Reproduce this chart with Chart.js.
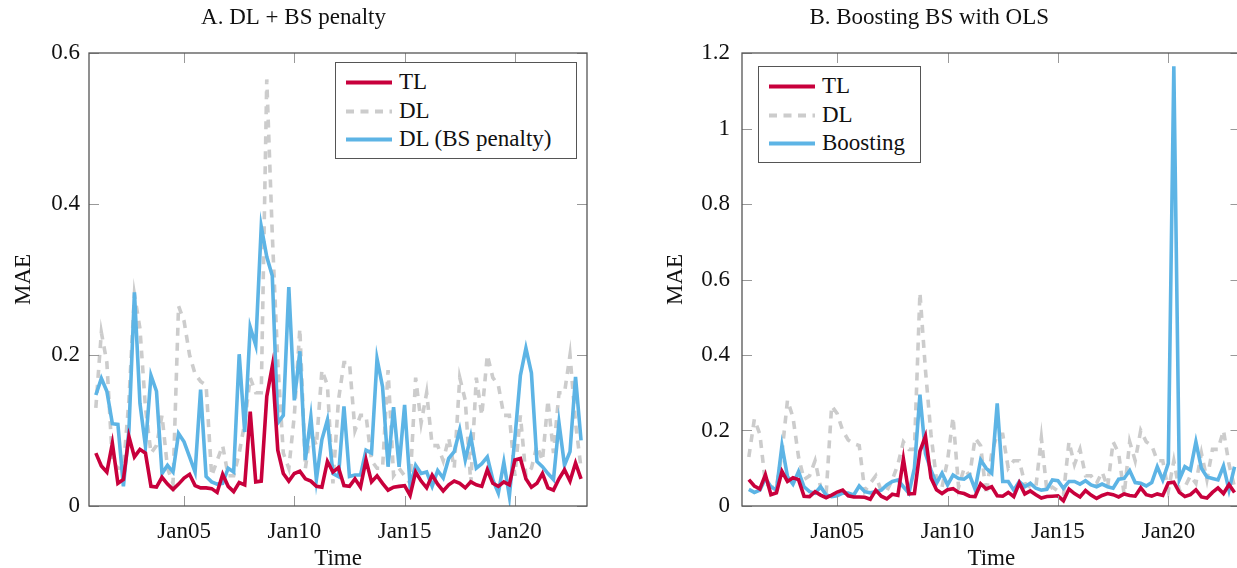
<!DOCTYPE html>
<html>
<head>
<meta charset="utf-8">
<script src="https://cdn.jsdelivr.net/npm/chart.js"></script>
<style>
  html, body { margin: 0; padding: 0; background: #fff; overflow: hidden; width: 1237px; height: 568px; }
  canvas { position: absolute; top: 0; }
  #cA { left: 0; }
  #cB { left: 618px; }
  .legend { position: absolute; background: #fff; border: 1px solid #555; box-sizing: border-box; height: 97px;
            font-family: 'Liberation Serif', serif; font-size: 23px; color: #111; }
  .legend .row { position: absolute; left: 0; height: 28px; line-height: 28px; white-space: nowrap; }
  .legend svg { position: absolute; left: 10px; top: 12px; }
  .legend span { position: absolute; left: 63px; top: 0; }
</style>
</head>
<body>
<canvas id="cA" width="618" height="568"></canvas>
<canvas id="cB" width="627" height="568"></canvas>
<div id="legA" class="legend" style="left:335px; top:62px; width:242px;"></div>
<div id="legB" class="legend" style="left:758px; top:66px; width:163px;"></div>
<script>
// 6-hourly observations, Jan01 00:00 .. Jan23 00:00
var stepDays = 0.25;

var tl = [0.070,0.053,0.045,0.083,0.030,0.035,0.092,0.065,0.075,0.070,
          0.026,0.025,0.038,0.029,0.022,0.029,0.037,0.042,0.027,0.024,
          0.024,0.023,0.018,0.042,0.026,0.019,0.031,0.028,0.125,0.032,
          0.033,0.145,0.185,0.074,0.043,0.033,0.043,0.046,0.036,0.033,
          0.026,0.025,0.059,0.045,0.051,0.027,0.026,0.036,0.025,0.061,
          0.032,0.040,0.030,0.021,0.025,0.026,0.027,0.014,0.045,0.033,
          0.024,0.041,0.029,0.020,0.028,0.033,0.030,0.024,0.032,0.028,
          0.026,0.048,0.030,0.026,0.032,0.028,0.061,0.063,0.036,0.025,
          0.030,0.043,0.024,0.021,0.036,0.048,0.033,0.057,0.036];

var dl = [0.13,0.23,0.19,0.06,0.05,0.05,0.14,0.28,0.235,0.13,
          0.07,0.08,0.12,0.05,0.03,0.265,0.245,0.20,0.175,0.165,
          0.16,0.04,0.06,0.08,0.04,0.04,0.07,0.11,0.17,0.15,
          0.15,0.565,0.36,0.19,0.07,0.05,0.12,0.235,0.05,0.10,
          0.08,0.18,0.16,0.03,0.14,0.19,0.19,0.10,0.12,0.12,
          0.06,0.05,0.05,0.18,0.04,0.05,0.04,0.03,0.17,0.11,
          0.15,0.08,0.08,0.06,0.09,0.05,0.17,0.14,0.03,0.17,
          0.12,0.20,0.17,0.16,0.12,0.12,0.04,0.12,0.04,0.05,
          0.08,0.06,0.14,0.07,0.15,0.15,0.20,0.11,0.05];

var dlBS = [0.147,0.169,0.152,0.109,0.108,0.026,0.100,0.283,0.136,0.079,
            0.173,0.152,0.043,0.054,0.045,0.096,0.085,0.065,0.045,0.154,
            0.039,0.032,0.029,0.030,0.050,0.045,0.201,0.098,0.237,0.213,
            0.370,0.330,0.305,0.110,0.120,0.290,0.140,0.205,0.061,0.118,
            0.035,0.088,0.114,0.043,0.039,0.132,0.039,0.041,0.041,0.074,
            0.070,0.195,0.158,0.052,0.131,0.052,0.134,0.026,0.054,0.043,
            0.045,0.026,0.047,0.037,0.063,0.072,0.101,0.061,0.092,0.050,
            0.056,0.065,0.035,0.017,0.058,0.013,0.090,0.173,0.209,0.176,
            0.059,0.052,0.043,0.035,0.110,0.054,0.072,0.171,0.087];

var boosting = [0.044,0.036,0.042,0.073,0.051,0.042,0.160,0.078,0.058,0.091,
                0.051,0.038,0.034,0.051,0.029,0.025,0.027,0.034,0.034,0.029,
                0.053,0.038,0.035,0.038,0.042,0.056,0.065,0.069,0.051,0.034,
                0.100,0.295,0.139,0.095,0.060,0.087,0.056,0.082,0.073,0.071,
                0.082,0.044,0.122,0.100,0.087,0.272,0.065,0.065,0.042,0.065,
                0.051,0.060,0.047,0.042,0.044,0.069,0.067,0.047,0.065,0.065,
                0.058,0.067,0.056,0.051,0.058,0.051,0.047,0.071,0.073,0.094,
                0.062,0.060,0.053,0.062,0.104,0.069,0.113,1.165,0.070,0.104,
                0.095,0.170,0.100,0.077,0.073,0.069,0.106,0.042,0.104];

var xTickDays = [4, 9, 14, 19];
var xTickLabels = ['Jan05', 'Jan10', 'Jan15', 'Jan20'];
var yTicksA = [0, 0.2, 0.4, 0.6];
var yTicksB = [0, 0.2, 0.4, 0.6, 0.8, 1, 1.2];

var RED = '#C8003C', GREY = '#CCCCCC', BLUE = '#5DB4E5';
var FONT = "'Liberation Serif', serif";

function pts(arr) {
	return arr.map(function(v, i){ return {x: i * stepDays, y: v}; });
}

// pgfplots style box with inward ticks
var framePlugin = {
	id: 'frame',
	afterDatasetsDraw: function(chart) {
		var ctx = chart.ctx, a = chart.chartArea;
		var xs = chart.scales.x, ys = chart.scales.y, L = 10;
		ctx.save();
		ctx.strokeStyle = '#999';
		ctx.lineWidth = 1;
		ctx.beginPath();
		xs.ticks.forEach(function(t){
			var px = Math.round(xs.getPixelForValue(t.value)) + 0.5;
			ctx.moveTo(px, a.bottom); ctx.lineTo(px, a.bottom - L);
			ctx.moveTo(px, a.top); ctx.lineTo(px, a.top + L);
		});
		ys.ticks.forEach(function(t){
			var py = Math.round(ys.getPixelForValue(t.value)) + 0.5;
			ctx.moveTo(a.left, py); ctx.lineTo(a.left + L, py);
			ctx.moveTo(a.right, py); ctx.lineTo(a.right - L, py);
		});
		ctx.stroke();
		ctx.strokeStyle = '#555';
		ctx.lineWidth = 1.3;
		ctx.strokeRect(a.left, a.top, a.right - a.left, a.bottom - a.top);
		ctx.restore();
	}
};

function makeChart(id, title, blueLabel, blueData, yTicks, yMax, yWidth, yPad, yTitlePad) {
	var cfg = {
		type: 'line',
		data: {
			datasets: [
				{ label: 'TL', data: pts(tl), borderColor: RED, borderWidth: 3.6, order: 0 },
				{ label: 'DL', data: pts(dl), borderColor: GREY, borderWidth: 3.6, borderDash: [8, 7], order: 2 },
				{ label: blueLabel, data: pts(blueData), borderColor: BLUE, borderWidth: 3.6, order: 1 }
			]
		},
		options: {
			responsive: false,
			animation: false,
			events: [],
			layout: { padding: { left: 0, right: id === 'cA' ? 31 : 4.5, top: 0, bottom: 0 } },
			elements: {
				line: { tension: 0, borderJoinStyle: 'miter', fill: false },
				point: { radius: 0 }
			},
			plugins: {
				legend: { display: false },
				tooltip: { enabled: false },
				title: {
					display: true, text: title, color: '#111',
					font: { family: FONT, size: 23, weight: 'normal' },
					padding: { top: 4, bottom: 21.4 }
				}
			},
			scales: {
				x: {
					type: 'linear', min: -0.31, max: 22.27,
					afterBuildTicks: function(s){ s.ticks = xTickDays.map(function(v){ return {value: v}; }); },
					afterFit: function(s){ s.height = 62; },
					ticks: {
						color: '#111', padding: 12, maxRotation: 0, autoSkip: false,
						font: { family: FONT, size: 23 },
						callback: function(v){ var k = xTickDays.indexOf(v); return k < 0 ? '' : xTickLabels[k]; }
					},
					grid: { display: false, drawTicks: false },
					border: { display: false },
					title: {
						display: true, text: 'Time', color: '#111',
						font: { family: FONT, size: 23, lineHeight: 0.8 },
						padding: { top: 0, bottom: 0 }
					}
				},
				y: {
					min: 0, max: yMax,
					afterBuildTicks: function(s){ s.ticks = yTicks.map(function(v){ return {value: v}; }); },
					afterFit: function(s){ s.width = yWidth; },
					ticks: {
						color: '#111', padding: yPad, font: { family: FONT, size: 23 },
						callback: function(v){ return String(Math.round(v * 10) / 10); }
					},
					grid: { display: false, drawTicks: false },
					border: { display: false },
					title: {
						display: true, text: 'MAE', color: '#111',
						font: { family: FONT, size: 23 },
						padding: { top: yTitlePad, bottom: 0 }
					}
				}
			}
		},
		plugins: [framePlugin]
	};
	return new Chart(document.getElementById(id).getContext('2d'), cfg);
}

function buildLegend(chart, boxId) {
	var box = document.getElementById(boxId);
	chart.data.datasets.forEach(function(ds, i){
		var row = document.createElement('div');
		row.className = 'row';
		row.style.top = (5 + i * 28.6) + 'px';
		var dash = ds.borderDash ? ' stroke-dasharray="8 6.5"' : '';
		row.innerHTML = '<svg width="46" height="5"><line x1="0" y1="2.5" x2="46" y2="2.5" stroke="' + ds.borderColor +
			'" stroke-width="4"' + dash + '/></svg><span>' + ds.label + '</span>';
		box.appendChild(row);
	});
}

var chartA = makeChart('cA', 'A. DL + BS penalty', 'DL (BS penalty)', dlBS, yTicksA, 0.6, 89, 9, 10);
var chartB = makeChart('cB', 'B. Boosting BS with OLS', 'Boosting', boosting, yTicksB, 1.2, 124, 12, 44);
buildLegend(chartA, 'legA');
buildLegend(chartB, 'legB');
</script>
</body>
</html>
